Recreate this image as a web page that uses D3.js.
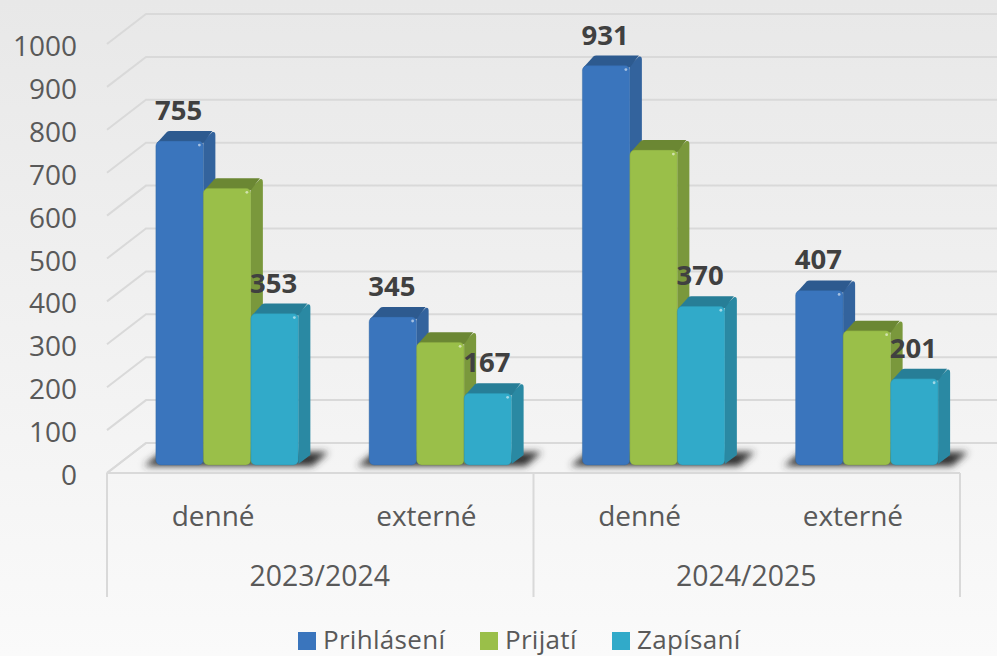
<!DOCTYPE html>
<html>
<head>
    <meta charset="utf-8" />
    <title>Prihlásení, prijatí, zapísaní</title>
    <script src="https://d3js.org/d3.v7.min.js" charset="utf-8"></script>
    <style>
        html, body { margin: 0; padding: 0; background: #f4f4f4; }
        svg { display: block; }
        text { font-family: "Open Sans", sans-serif; }
    </style>
</head>
<body>
    <script>
        // Data
        const years = ["2023/2024", "2024/2025"];
        const categories = ["denné", "externé", "denné ", "externé "];
        const seriesNames = ["Prihlásení", "Prijatí", "Zapísaní"];
        const prihlaseni = [755, 345, 931, 407];
        const prijati = [645, 286, 734, 313];
        const zapisani = [353, 167, 370, 201];
        const seriesValues = [prihlaseni, prijati, zapisani];
        const labelledSeries = [0, 2]; // the green bars carry no labels
        const yTicks = [0, 100, 200, 300, 400, 500, 600, 700, 800, 900, 1000];

        const colors = [
            { front: "#3a75bd", top: "#2d5a8f", side: "#33639d" },
            { front: "#9abf49", top: "#6b8733", side: "#7a983c" },
            { front: "#31aac9", top: "#277e97", side: "#2a89a3" }
        ];

        const width = 997, height = 656;
        const left = 107, right = 960, floorY = 473;
        const depthX = 39, depthY = 30;   // wall offset
        const barDx = 13.5, barDy = 8;    // bars stand a bit inside the floor
        const sideX = 12, sideY = 10;     // depth of a bar

        const svg = d3.select("body").append("svg")
            .attr("width", width)
            .attr("height", height);

        const defs = svg.append("defs");
        const bg = defs.append("linearGradient").attr("id", "bg")
            .attr("x1", 0).attr("y1", 0).attr("x2", 0).attr("y2", 1);
        bg.append("stop").attr("offset", "0%").attr("stop-color", "#e8e8e8");
        bg.append("stop").attr("offset", "100%").attr("stop-color", "#fafafa");
        defs.append("filter").attr("id", "soft")
            .attr("x", "-20%").attr("y", "-80%").attr("width", "140%").attr("height", "260%")
            .append("feGaussianBlur").attr("stdDeviation", 3.5);

        svg.append("rect").attr("width", width).attr("height", height).attr("fill", "url(#bg)");

        const y = d3.scaleLinear().domain([0, 1000]).range([floorY, floorY - 429]);
        const x0 = d3.scaleBand().domain(categories).range([left, right]);
        const x1 = d3.scaleBand().domain(d3.range(seriesNames.length))
            .range([0, x0.bandwidth()]).paddingOuter(0.745).paddingInner(0);

        // Gridlines on the side and back wall
        const gridColor = "#d9d9d9";
        svg.selectAll(".grid").data(yTicks).enter().append("polyline")
            .attr("class", "grid")
            .attr("fill", "none")
            .attr("stroke", gridColor)
            .attr("stroke-width", 2)
            .attr("points", d => [
                [left, y(d)],
                [left + depthX, y(d) - depthY],
                [width, y(d) - depthY]
            ].join(" "));

        // Y tick labels
        svg.selectAll(".tick-label").data(yTicks).enter().append("text")
            .attr("class", "tick-label")
            .attr("x", 77)
            .attr("y", d => y(d) + 2)
            .attr("dy", "0.36em")
            .attr("text-anchor", "end")
            .attr("font-size", 28)
            .attr("fill", "#595959")
            .text(d => d);

        // Bars, one group per category
        const barWidth = x1.bandwidth();
        const barX = (c, s) => x0(c) + x1(s) + barDx;
        const barY = v => y(v) - barDy;

        const bars = [];
        categories.forEach((c, ci) => {
            seriesValues.forEach((vals, s) => bars.push({ c, s, v: vals[ci] }));
        });

        // Floor shadows go under everything
        svg.selectAll(".shadow").data(categories).enter().append("path")
            .attr("class", "shadow")
            .attr("fill", "#333333")
            .attr("filter", "url(#soft)")
            .attr("d", c => {
                const x = barX(c, 0), r = barX(c, 2) + barWidth, b = barY(0) + 1;
                return `M${x - 12},${b} L${x + 6},${b - 14} L${r + 30},${b - 14} L${r + 14},${b} Z`;
            });

        // Back to front in drawing order: the later series sits over the earlier side face
        const bar = svg.selectAll(".bar").data(bars).enter().append("g").attr("class", "bar");

        bar.append("path") // side face
            .attr("fill", d => colors[d.s].side)
            .attr("d", d => {
                const r = barX(d.c, d.s) + barWidth, t = barY(d.v), b = barY(0);
                return `M${r},${t} L${r + sideX - 3},${t - sideY + 1} Q${r + sideX},${t - sideY} ${r + sideX},${t - sideY + 4} L${r + sideX},${b - sideY} L${r},${b - 1} Z`;
            });

        bar.append("path") // top face
            .attr("fill", d => colors[d.s].top)
            .attr("d", d => {
                const l = barX(d.c, d.s), r = l + barWidth, t = barY(d.v);
                return `M${l + 1},${t + 2} L${l + sideX - 1},${t - sideY + 1} Q${l + sideX},${t - sideY} ${l + sideX + 2},${t - sideY} L${r + sideX - 3},${t - sideY} L${r},${t + 2} Z`;
            });

        bar.append("rect") // front face
            .attr("x", d => barX(d.c, d.s))
            .attr("y", d => barY(d.v))
            .attr("width", barWidth)
            .attr("height", d => barY(0) - barY(d.v))
            .attr("rx", 5)
            .attr("fill", d => colors[d.s].front)
            .attr("stroke", d => colors[d.s].side)
            .attr("stroke-opacity", 0.5)
            .attr("stroke-width", 0.8);

        // small highlight on the top right corner of the front face
        bar.append("circle")
            .attr("cx", d => barX(d.c, d.s) + barWidth - 4)
            .attr("cy", d => barY(d.v) + 4)
            .attr("r", 1.4)
            .attr("fill", "#ffffff")
            .attr("fill-opacity", 0.55);

        // Data labels
        svg.selectAll(".value").data(bars.filter(d => labelledSeries.includes(d.s))).enter().append("text")
            .attr("class", "value")
            .attr("x", d => barX(d.c, d.s) + barWidth / 2 - 1)
            .attr("y", d => barY(d.v) - 21)
            .attr("text-anchor", "middle")
            .attr("font-size", 27.5)
            .attr("font-weight", 700)
            .attr("fill", "#404040")
            .text(d => d.v);

        // Multi level category axis
        const axisColor = "#d9d9d9";
        const axisBottom = 597;
        svg.append("line")
            .attr("x1", left).attr("x2", right)
            .attr("y1", floorY).attr("y2", floorY)
            .attr("stroke", axisColor).attr("stroke-width", 2);
        svg.append("polyline")
            .attr("fill", "none").attr("stroke", axisColor).attr("stroke-width", 2)
            .attr("points", [[left, floorY], [left + depthX, floorY - depthY]].join(" "));
        [left, x0(categories[2]), right].forEach(px => {
            svg.append("line")
                .attr("x1", px).attr("x2", px)
                .attr("y1", floorY).attr("y2", axisBottom)
                .attr("stroke", axisColor).attr("stroke-width", 2);
        });

        svg.selectAll(".cat").data(categories).enter().append("text")
            .attr("class", "cat")
            .attr("x", c => x0(c) + x0.bandwidth() / 2 - 0.5)
            .attr("y", 526)
            .attr("text-anchor", "middle")
            .attr("font-size", 28)
            .attr("fill", "#595959")
            .text(c => c.trim());

        svg.selectAll(".year").data(years).enter().append("text")
            .attr("class", "year")
            .attr("x", (d, i) => x0(categories[i * 2]) + x0.bandwidth() - 0.5)
            .attr("y", 586)
            .attr("text-anchor", "middle")
            .attr("font-size", 28.4)
            .attr("fill", "#595959")
            .text(d => d);

        // Legend
        const legendX = [298, 480, 612];
        const legend = svg.selectAll(".legend").data(seriesNames).enter().append("g").attr("class", "legend");
        legend.append("rect")
            .attr("x", (d, i) => legendX[i])
            .attr("y", 632)
            .attr("width", 18)
            .attr("height", 18)
            .attr("fill", (d, i) => colors[i].front);
        legend.append("text")
            .attr("x", (d, i) => legendX[i] + 25)
            .attr("y", 648.5)
            .attr("font-size", 26)
            .attr("letter-spacing", 0.3)
            .attr("fill", "#595959")
            .text(d => d);
    </script>
</body>
</html>
